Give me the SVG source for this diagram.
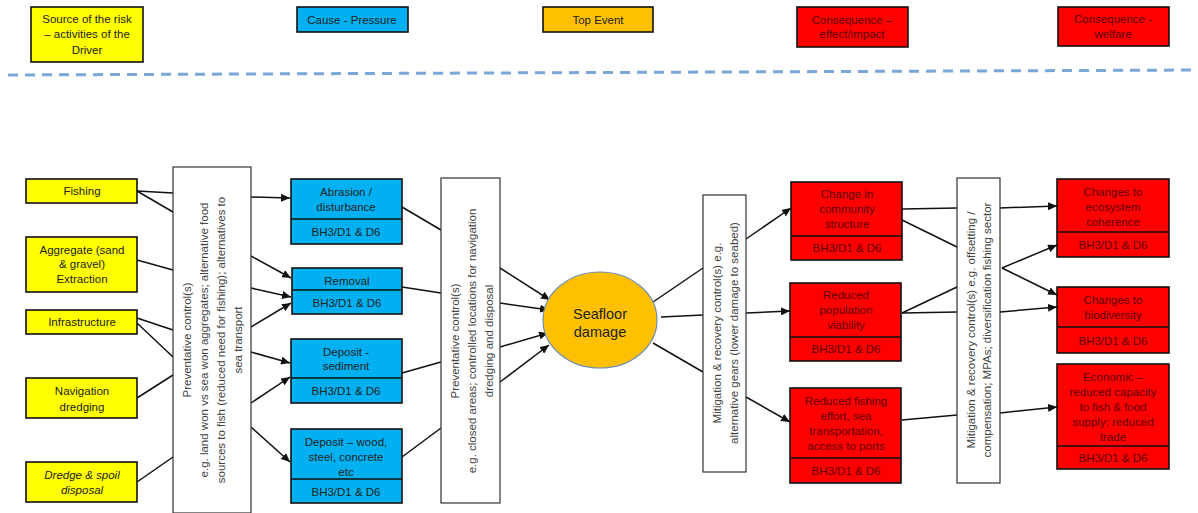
<svg xmlns="http://www.w3.org/2000/svg" width="1198" height="513" viewBox="0 0 1198 513">
<style>
text{font-family:"Liberation Sans",Arial,sans-serif;font-size:11.5px;text-anchor:middle;fill:#222}
text.big{font-size:14.5px;fill:#222}
.box{stroke:#111;stroke-width:1.6}
.y{fill:#ffff00}
.b{fill:#00b0f0}
.o{fill:#ffc000}
.r{fill:#ff0000}
.w{fill:#fff;stroke:#333;stroke-width:1.2}
.rt{fill:#5a0000}
.ctl{fill:#444}
.con line{stroke:#111;stroke-width:1.5}
.arr{marker-end:url(#ah)}
.div{stroke:#111;stroke-width:1.6}
</style>
<defs>
<marker id="ah" markerUnits="userSpaceOnUse" markerWidth="10" markerHeight="8" refX="9" refY="4" orient="auto">
<path d="M0,0 L9,4 L0,8 Z" fill="#111"/>
</marker>
</defs>
<rect width="1198" height="513" fill="#fff"/>

<!-- Legend -->
<g id="legend-source"><rect class="box y" x="31" y="7" width="112" height="55"/><text x="87" y="23">Source of the risk</text><text x="87" y="38">– activities of the</text><text x="87" y="54">Driver</text></g>
<g id="legend-cause"><rect class="box b" x="297" y="7" width="111" height="25"/><text x="352" y="24">Cause - Pressure</text></g>
<g id="legend-top"><rect class="box o" x="543" y="7" width="110" height="25"/><text x="598" y="24">Top Event</text></g>
<g id="legend-cons1"><rect class="box r" x="797" y="7" width="111" height="40"/><text class="rt" x="852" y="24">Consequence –</text><text class="rt" x="852" y="38">effect/impact</text></g>
<g id="legend-cons2"><rect class="box r" x="1058" y="7" width="111" height="39"/><text class="rt" x="1113" y="23">Consequence -</text><text class="rt" x="1113" y="38">welfare</text></g>
<line x1="8" y1="75" x2="1196" y2="70" stroke="#7ba7d7" stroke-width="3" stroke-dasharray="10 7"/>

<!-- Connectors -->
<g id="connectors" class="con">
<line x1="137" y1="191" x2="173" y2="193"/>
<line x1="137" y1="191" x2="173" y2="212"/>
<line x1="137" y1="260" x2="173" y2="270"/>
<line x1="137" y1="318" x2="173" y2="330"/>
<line x1="137" y1="323" x2="173" y2="357"/>
<line x1="137" y1="398" x2="173" y2="375"/>
<line x1="137" y1="482" x2="173" y2="457"/>
<line class="arr" x1="251" y1="197" x2="290" y2="198"/>
<line class="arr" x1="251" y1="256" x2="291" y2="278"/>
<line class="arr" x1="251" y1="288" x2="291" y2="297"/>
<line class="arr" x1="251" y1="327" x2="291" y2="303"/>
<line class="arr" x1="251" y1="352" x2="290" y2="363"/>
<line class="arr" x1="251" y1="403" x2="290" y2="377"/>
<line class="arr" x1="251" y1="427" x2="290" y2="462"/>
<line x1="402" y1="207" x2="441" y2="230"/>
<line x1="402" y1="287" x2="441" y2="293"/>
<line x1="402" y1="373" x2="441" y2="362"/>
<line x1="402" y1="457" x2="441" y2="428"/>
<line class="arr" x1="500" y1="268" x2="550" y2="300"/>
<line class="arr" x1="500" y1="303" x2="549" y2="310"/>
<line class="arr" x1="500" y1="347" x2="548" y2="333"/>
<line class="arr" x1="500" y1="382" x2="549" y2="345"/>
<line x1="653" y1="302" x2="703" y2="268"/>
<line x1="661" y1="317" x2="703" y2="315"/>
<line x1="653" y1="343" x2="703" y2="372"/>
<line class="arr" x1="746" y1="239" x2="791" y2="208"/>
<line class="arr" x1="746" y1="313" x2="790" y2="311"/>
<line class="arr" x1="746" y1="397" x2="790" y2="422"/>
<line x1="902" y1="209" x2="957" y2="208"/>
<line x1="902" y1="220" x2="957" y2="247"/>
<line x1="902" y1="313" x2="957" y2="287"/>
<line x1="902" y1="313" x2="957" y2="312"/>
<line x1="902" y1="420" x2="957" y2="415"/>
<line class="arr" x1="1000" y1="208" x2="1057" y2="206"/>
<line class="arr" x1="1002" y1="268" x2="1057" y2="245"/>
<line class="arr" x1="1002" y1="268" x2="1057" y2="295"/>
<line class="arr" x1="1000" y1="312" x2="1057" y2="307"/>
<line class="arr" x1="1000" y1="413" x2="1057" y2="407"/>
</g>

<!-- Sources -->
<g id="fishing"><rect class="box y" x="26" y="179" width="111" height="24"/><text x="82" y="195">Fishing</text></g>
<g id="aggregate"><rect class="box y" x="26" y="237" width="111" height="55"/><text x="82" y="254">Aggregate (sand</text><text x="82" y="268">&amp; gravel)</text><text x="82" y="283">Extraction</text></g>
<g id="infrastructure"><rect class="box y" x="26" y="310" width="111" height="24"/><text x="82" y="326">Infrastructure</text></g>
<g id="navigation"><rect class="box y" x="26" y="378" width="111" height="40"/><text x="82" y="395">Navigation</text><text x="82" y="411">dredging</text></g>
<g id="dredge"><rect class="box y" x="26" y="462" width="111" height="40"/><text x="82" y="479" font-style="italic">Dredge &amp; spoil</text><text x="82" y="494" font-style="italic">disposal</text></g>

<!-- Preventative control 1 -->
<g id="prev1"><rect class="w" x="173" y="167" width="78" height="346"/>
<g transform="translate(212,340) rotate(-90)"><text x="0" y="-21" class="ctl">Preventative control(s)</text><text x="0" y="-4" class="ctl">e.g. land won vs sea won aggregates; alternative food</text><text x="0" y="13" class="ctl">sources to fish (reduced need for fishing); alternatives to</text><text x="0" y="30" class="ctl">sea transport</text></g></g>

<!-- Pressures -->
<g id="abrasion"><rect class="box b" x="291" y="179" width="111" height="65"/><line class="div" x1="291" y1="219" x2="402" y2="219"/><text x="346" y="196">Abrasion /</text><text x="346" y="211">disturbance</text><text x="346" y="236">BH3/D1 &amp; D6</text></g>
<g id="removal"><rect class="box b" x="292" y="268" width="110" height="46"/><line class="div" x1="292" y1="290" x2="402" y2="290"/><text x="347" y="285">Removal</text><text x="347" y="307">BH3/D1 &amp; D6</text></g>
<g id="deposit-sediment"><rect class="box b" x="291" y="339" width="111" height="64"/><line class="div" x1="291" y1="378" x2="402" y2="378"/><text x="346" y="356">Deposit -</text><text x="346" y="370">sediment</text><text x="346" y="395">BH3/D1 &amp; D6</text></g>
<g id="deposit-wood"><rect class="box b" x="291" y="429" width="111" height="74"/><line class="div" x1="291" y1="479" x2="402" y2="479"/><text x="346" y="446">Deposit –  wood,</text><text x="346" y="461">steel, concrete</text><text x="346" y="476">etc</text><text x="346" y="496">BH3/D1 &amp; D6</text></g>

<!-- Preventative control 2 -->
<g id="prev2"><rect class="w" x="441" y="178" width="59" height="325"/>
<g transform="translate(472,341) rotate(-90)"><text x="0" y="-13" class="ctl">Preventative control(s)</text><text x="0" y="4" class="ctl">e.g. closed areas; controlled locations for navigation</text><text x="0" y="21" class="ctl">dredging and disposal</text></g></g>

<!-- Top event -->
<g id="seafloor"><ellipse cx="600" cy="320" rx="57" ry="48" fill="#ffc000" stroke="#6d8fb5" stroke-width="1.2"/><text class="big" x="600" y="319">Seafloor</text><text class="big" x="600" y="337">damage</text></g>

<!-- Mitigation 1 -->
<g id="mit1"><rect class="w" x="703" y="195" width="43" height="277"/>
<g transform="translate(725,333) rotate(-90)"><text x="0" y="-4" class="ctl">Mitigation &amp; recovery control(s) e.g.</text><text x="0" y="13" class="ctl">alternative gears (lower damage to seabed)</text></g></g>

<!-- Consequences 1 -->
<g id="community"><rect class="box r" x="791" y="182" width="111" height="78"/><line class="div" x1="791" y1="236" x2="902" y2="236"/><text class="rt" x="847" y="198">Change in</text><text class="rt" x="847" y="213">community</text><text class="rt" x="847" y="228">structure</text><text class="rt" x="847" y="252">BH3/D1 &amp; D6</text></g>
<g id="population"><rect class="box r" x="790" y="283" width="111" height="78"/><line class="div" x1="790" y1="337" x2="901" y2="337"/><text class="rt" x="846" y="299">Reduced</text><text class="rt" x="846" y="314">population</text><text class="rt" x="846" y="329">viability</text><text class="rt" x="846" y="353">BH3/D1 &amp; D6</text></g>
<g id="fishing-effort"><rect class="box r" x="790" y="388" width="111" height="95"/><line class="div" x1="790" y1="458" x2="901" y2="458"/><text class="rt" x="846" y="405">Reduced fishing</text><text class="rt" x="846" y="420">effort, sea</text><text class="rt" x="846" y="435">transportation,</text><text class="rt" x="846" y="450">access to ports</text><text class="rt" x="846" y="475">BH3/D1 &amp; D6</text></g>

<!-- Mitigation 2 -->
<g id="mit2"><rect class="w" x="957" y="178" width="43" height="305"/>
<g transform="translate(979,330) rotate(-90)"><text x="0" y="-4" class="ctl">Mitigation &amp; recovery control(s) e.g. offsetting /</text><text x="0" y="12" class="ctl">compensation; MPAs; diversification fishing sector</text></g></g>

<!-- Consequences 2 -->
<g id="ecosystem"><rect class="box r" x="1057" y="179" width="112" height="78"/><line class="div" x1="1057" y1="232" x2="1169" y2="232"/><text class="rt" x="1113" y="196">Changes to</text><text class="rt" x="1113" y="211">ecosystem</text><text class="rt" x="1113" y="226">coherence</text><text class="rt" x="1113" y="249">BH3/D1 &amp; D6</text></g>
<g id="biodiversity"><rect class="box r" x="1057" y="287" width="112" height="66"/><line class="div" x1="1057" y1="327" x2="1169" y2="327"/><text class="rt" x="1113" y="304">Changes to</text><text class="rt" x="1113" y="319">biodiversity</text><text class="rt" x="1113" y="345">BH3/D1 &amp; D6</text></g>
<g id="economic"><rect class="box r" x="1057" y="364" width="112" height="105"/><line class="div" x1="1057" y1="446" x2="1169" y2="446"/><text class="rt" x="1113" y="381">Economic –</text><text class="rt" x="1113" y="396">reduced capacity</text><text class="rt" x="1113" y="411">to fish &amp; food</text><text class="rt" x="1113" y="426">supply; reduced</text><text class="rt" x="1113" y="441">trade</text><text class="rt" x="1113" y="462">BH3/D1 &amp; D6</text></g>
</svg>
